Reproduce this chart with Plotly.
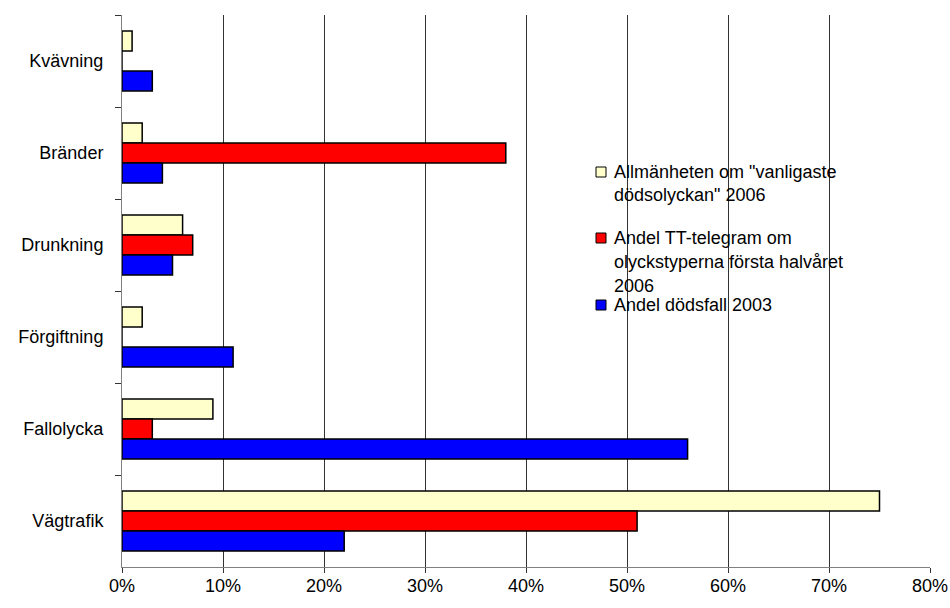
import plotly.graph_objects as go

# ---- data ----
categories = ["Kvävning", "Bränder", "Drunkning", "Förgiftning", "Fallolycka", "Vägtrafik"]
series_names = [
    'Allmänheten om "vanligaste<br>dödsolyckan" 2006',
    "Andel TT-telegram om<br>olyckstyperna första halvåret<br>2006",
    "Andel dödsfall 2003",
]
allmanheten = [1, 2, 6, 2, 9, 75]
tt_telegram = [0, 38, 7, 0, 3, 51]
dodsfall = [3, 4, 5, 11, 56, 22]
colors = ["#FFFFCC", "#FF0000", "#0000FF"]
x_ticks = [0, 10, 20, 30, 40, 50, 60, 70, 80]
x_tick_labels = ["0%", "10%", "20%", "30%", "40%", "50%", "60%", "70%", "80%"]

W, H = 950, 608
L, R, T, B = 122, 20, 15, 41
FONT = "Liberation Sans, Arial, sans-serif"
FS = 18

fig = go.Figure()
for name, vals, col in zip(series_names, [allmanheten, tt_telegram, dodsfall], colors):
    fig.add_trace(go.Bar(
        y=categories, x=vals, orientation="h", name=name,
        marker=dict(color=col, line=dict(color="black", width=1.5)),
        showlegend=False,
    ))

# legend drawn as annotations + shapes (paper coordinates)
pw, ph = W - L - R, H - T - B
def px_x(x):
    return (x - L) / pw
def px_y(y):
    return (H - B - y) / ph

legend_lines = [
    [(172, 'Allmänheten om "vanligaste'), (195, 'dödsolyckan" 2006')],
    [(238, "Andel TT-telegram om"), (262, "olyckstyperna första halvåret"), (286, "2006")],
    [(305, "Andel dödsfall 2003")],
]
for lines, col in zip(legend_lines, colors):
    for ypx, txt in lines:
        fig.add_annotation(x=px_x(612), y=px_y(ypx), xref="paper", yref="paper",
                           text=txt, showarrow=False, xanchor="left", yanchor="middle",
                           font=dict(family=FONT, size=FS, color="black"))
    y0 = lines[0][0]
    fig.add_shape(type="rect", xref="paper", yref="paper",
                  x0=px_x(596), x1=px_x(606), y0=px_y(y0 - 5), y1=px_y(y0 + 5),
                  fillcolor=col, line=dict(color="black", width=1))

fig.update_layout(
    width=W, height=H,
    margin=dict(l=L, r=R, t=T, b=B, autoexpand=False),
    paper_bgcolor="white", plot_bgcolor="white",
    barmode="group", bargap=0.35, bargroupgap=0,
    font=dict(family=FONT, size=FS, color="black"),
    showlegend=False,
)
fig.update_xaxes(
    range=[0, 80], tickvals=x_ticks, ticktext=x_tick_labels,
    showgrid=True, gridcolor="#333333", gridwidth=1,
    showline=True, linecolor="#808080", linewidth=1,
    ticks="outside", ticklen=5, tickcolor="#333333", ticklabelstandoff=-3,
    zeroline=False, tickfont=dict(size=FS), automargin=False,
)
fig.update_yaxes(
    autorange="reversed", categoryorder="array", categoryarray=categories,
    showline=True, linecolor="#808080", linewidth=1,
    ticks="outside", tickson="boundaries", ticklen=6, tickcolor="#333333",
    ticklabelstandoff=14, tickfont=dict(size=FS), showgrid=False, automargin=False,
)

fig.write_html("out.html", config={"displayModeBar": False},
               post_script="document.body.style.margin='0';document.body.style.overflow='hidden';")
